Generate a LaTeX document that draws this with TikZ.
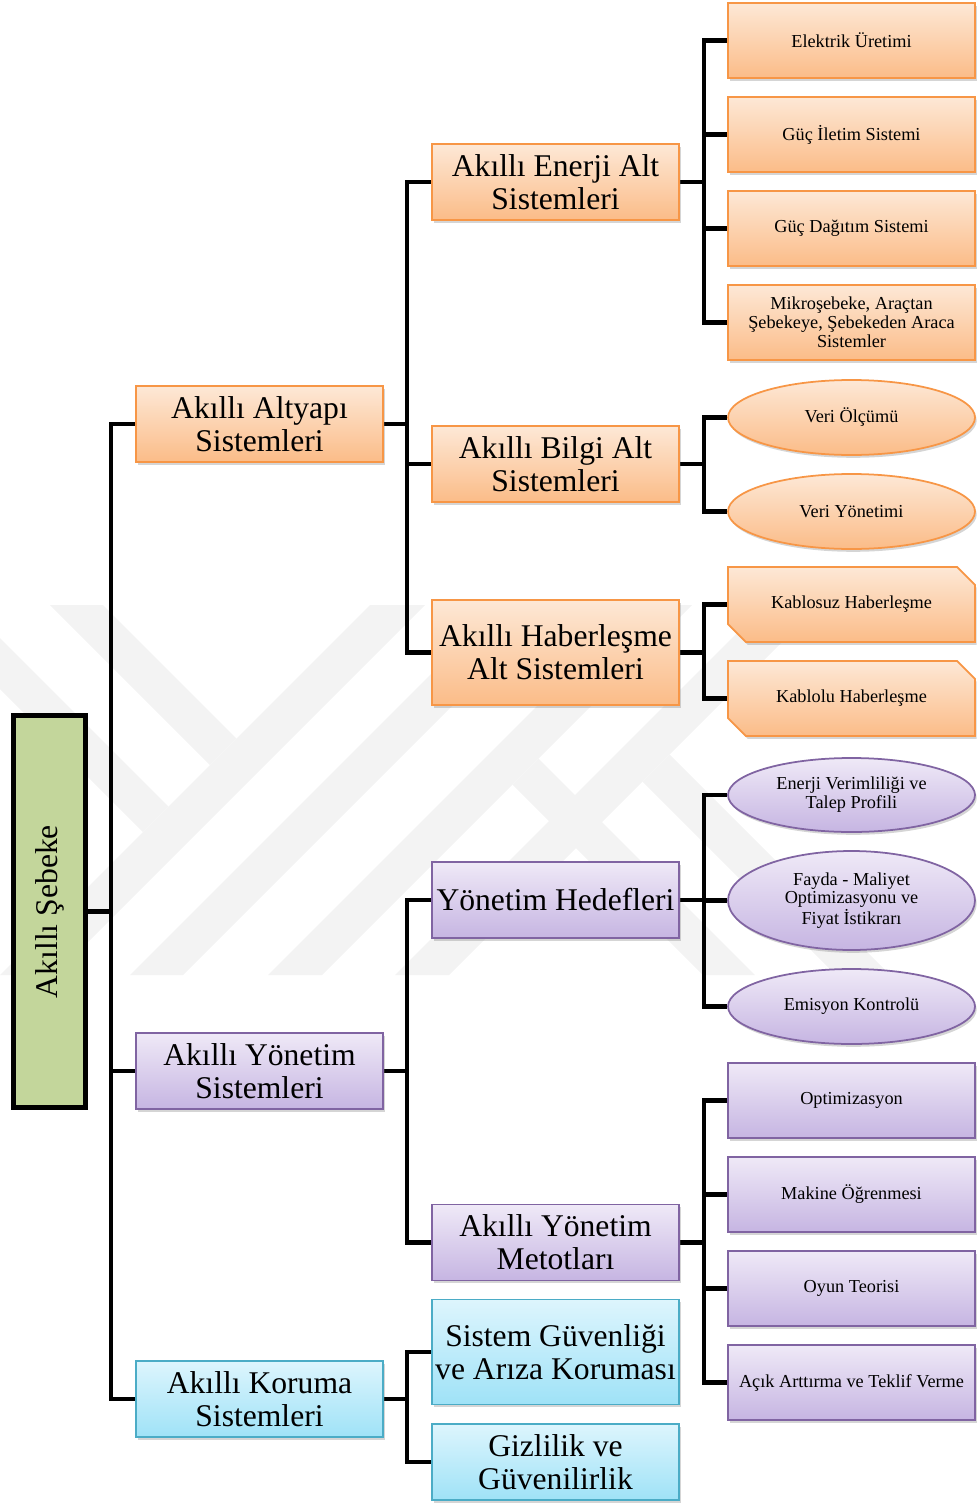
\documentclass[tikz,border=0pt]{standalone}
\usepackage{fontspec}
\setmainfont{Liberation Serif}
\usetikzlibrary{shapes.geometric,shapes.misc,shadows,backgrounds}

\definecolor{orBorder}{HTML}{F79646}
\definecolor{orTop}{HTML}{FDE8D6}
\definecolor{orBot}{HTML}{FBBC88}
\definecolor{puBorder}{HTML}{8064A2}
\definecolor{puTop}{HTML}{EFE9F7}
\definecolor{puBot}{HTML}{C6B5E2}
\definecolor{cyBorder}{HTML}{4BACC6}
\definecolor{cyTop}{HTML}{DDF5FD}
\definecolor{cyBot}{HTML}{9FE2F7}
\definecolor{rootGreen}{HTML}{C3D69B}
\definecolor{markGray}{HTML}{F3F3F3}

\begin{document}
\begin{tikzpicture}[x=0.02cm,y=-0.02cm,
  conn/.style={line width=2.8pt,black},
  shade/.style={drop shadow={shadow xshift=1pt,shadow yshift=-1.6pt,opacity=0.3,fill=black!55}},
  bigbox/.style={rectangle,draw,line width=1pt,minimum width=4.94cm,minimum height=1.52cm,
    inner sep=0pt,align=center,font=\fontsize{18}{18.7}\selectfont,shade},
  leafbox/.style={rectangle,draw,line width=1pt,minimum width=4.94cm,minimum height=1.5cm,
    inner sep=0pt,align=center,font=\fontsize{10.4}{10.8}\selectfont,shade},
  leafoval/.style={ellipse,draw,line width=1pt,minimum width=4.94cm,minimum height=1.5cm,
    inner sep=0pt,align=center,font=\fontsize{10.4}{10.8}\selectfont,shade},
  leafsnip/.style={chamfered rectangle,chamfered rectangle corners={north east,south west},
    chamfered rectangle xsep=5.5pt,chamfered rectangle ysep=5.5pt,
    draw,line width=1pt,minimum width=4.94cm,minimum height=1.5cm,
    inner sep=0pt,align=center,font=\fontsize{10.4}{10.8}\selectfont,shade},
  orange/.style={draw=orBorder,top color=orTop,bottom color=orBot},
  purple/.style={draw=puBorder,top color=puTop,bottom color=puBot},
  cyan/.style={draw=cyBorder,top color=cyTop,bottom color=cyBot},
  band/.style={fill=markGray,draw=none}]

\useasboundingbox (0,0) rectangle (980,1504);

% root
\node[draw,line width=2.8pt,fill=rootGreen,minimum width=1.44cm,minimum height=7.84cm,inner sep=0pt,
  font=\fontsize{18}{18.7}\selectfont] (root) at (49.5,911.5) {\rotatebox{90}{Akıllı Şebeke}};

% first level
\node[bigbox,orange] (alt) at (259.5,424) {Akıllı Altyapı\\Sistemleri};
\node[bigbox,purple] (yon) at (259.5,1071) {Akıllı Yönetim\\Sistemleri};
\node[bigbox,cyan]   (kor) at (259.5,1399) {Akıllı Koruma\\Sistemleri};

% second level
\node[bigbox,orange] (ener) at (555.5,182) {Akıllı Enerji Alt\\Sistemleri};
\node[bigbox,orange] (bilg) at (555.5,464) {Akıllı Bilgi Alt\\Sistemleri};
\node[bigbox,orange,minimum height=2.1cm] (habr) at (555.5,652.5) {Akıllı Haberleşme\\Alt Sistemleri};
\node[bigbox,purple] (hedf) at (555.5,900) {Yönetim Hedefleri};
\node[bigbox,purple] (metd) at (555.5,1242.5) {Akıllı Yönetim\\Metotları};
\node[bigbox,cyan,minimum height=2.1cm] (guvn) at (555.5,1352) {Sistem Güvenliği\\ve Arıza Koruması};
\node[bigbox,cyan] (gizl) at (555.5,1462) {Gizlilik ve\\Güvenilirlik};

% third level
\node[leafbox,orange] (e1) at (851.5,40.5) {Elektrik Üretimi};
\node[leafbox,orange] (e2) at (851.5,134.5) {Güç İletim Sistemi};
\node[leafbox,orange] (e3) at (851.5,228.5) {Güç Dağıtım Sistemi};
\node[leafbox,orange] (e4) at (851.5,322.5) {Mikroşebeke, Araçtan\\Şebekeye, Şebekeden Araca\\Sistemler};
\node[leafoval,orange] (b1) at (851.5,417.5) {Veri Ölçümü};
\node[leafoval,orange] (b2) at (851.5,511.5) {Veri Yönetimi};
\node[leafsnip,orange] (h1) at (851.5,604.5) {Kablosuz Haberleşme};
\node[leafsnip,orange] (h2) at (851.5,698.5) {Kablolu Haberleşme};
\node[leafoval,purple,minimum height=1.48cm] (g1) at (851.5,795) {Enerji Verimliliği ve\\Talep Profili};
\node[leafoval,purple,minimum height=1.98cm] (g2) at (851.5,900.5) {Fayda - Maliyet\\Optimizasyonu ve\\Fiyat İstikrarı};
\node[leafoval,purple] (g3) at (851.5,1006.5) {Emisyon Kontrolü};
\node[leafbox,purple] (m1) at (851.5,1100.5) {Optimizasyon};
\node[leafbox,purple] (m2) at (851.5,1194.5) {Makine Öğrenmesi};
\node[leafbox,purple] (m3) at (851.5,1288.5) {Oyun Teorisi};
\node[leafbox,purple] (m4) at (851.5,1382.5) {Açık Arttırma ve Teklif Verme};

% trunk positions of the tree connectors
\coordinate (j0) at (111,0);
\coordinate (j1) at (407,0);
\coordinate (j2) at (704,0);

\begin{scope}[on background layer]
  % faint stripes of the background emblem
  \begin{scope}
    \clip (0,605) rectangle (910,975);
    \foreach \a/\b in {975/1030,1105/1158,1243/1297,1370/1424}
      \fill[band] (\a-605,605) -- (\b-605,605) -- (\b-975,975) -- (\a-975,975) -- cycle;
    \fill[band] (0,502) -- (236.5,738.5) -- (210,765) -- (0,555) -- cycle;
    \fill[band] (0,638) -- (168.5,806.5) -- (143,832) -- (0,689) -- cycle;
    \fill[band] (538.5,758.5) -- (755,975) -- (703,975) -- (512.5,784.5) -- cycle;
    \fill[band] (669.5,754.5) -- (890,975) -- (836,975) -- (642.5,781.5) -- cycle;
  \end{scope}

  % connectors
  \foreach \c in {alt,yon,kor}
    \draw[conn] (root.east) -- (root.east -| j0) |- (\c.west);
  \foreach \c in {ener,bilg,habr}
    \draw[conn] (alt.east) -- (alt.east -| j1) |- (\c.west);
  \foreach \c in {hedf,metd}
    \draw[conn] (yon.east) -- (yon.east -| j1) |- (\c.west);
  \foreach \c in {guvn,gizl}
    \draw[conn] (kor.east) -- (kor.east -| j1) |- (\c.west);
  \foreach \c in {e1,e2,e3,e4}
    \draw[conn] (ener.east) -- (ener.east -| j2) |- (\c.west);
  \foreach \c in {b1,b2}
    \draw[conn] (bilg.east) -- (bilg.east -| j2) |- (\c.west);
  \foreach \c in {h1,h2}
    \draw[conn] (habr.east) -- (habr.east -| j2) |- (\c.west);
  \foreach \c in {g1,g2,g3}
    \draw[conn] (hedf.east) -- (hedf.east -| j2) |- (\c.west);
  \foreach \c in {m1,m2,m3,m4}
    \draw[conn] (metd.east) -- (metd.east -| j2) |- (\c.west);
\end{scope}
\end{tikzpicture}
\end{document}
